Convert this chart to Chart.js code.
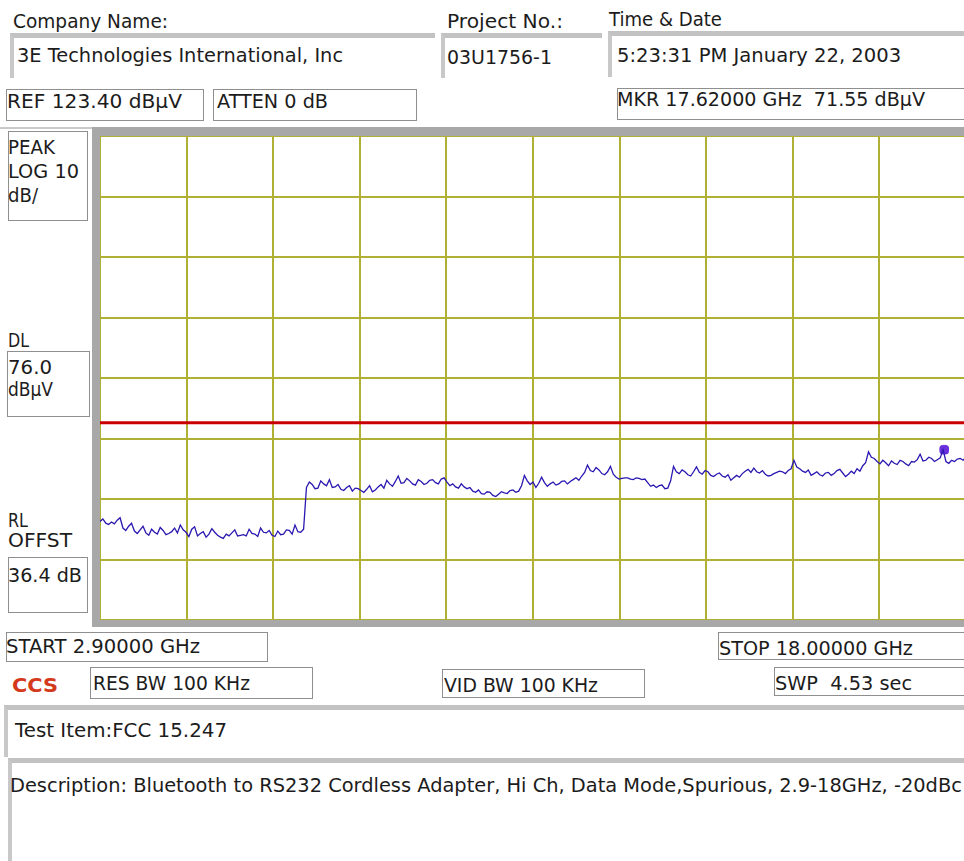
<!DOCTYPE html>
<html>
<head>
<meta charset="utf-8">
<script src="https://cdn.jsdelivr.net/npm/chart.js@4.4.1/dist/chart.umd.min.js"></script>
<style>
  html, body { margin: 0; padding: 0; background: #fff; }
  body { width: 964px; height: 861px; position: relative; overflow: hidden; font-family: "DejaVu Sans", sans-serif; }
  .lbl { position: absolute; white-space: pre; font-size: 19px; line-height: 22px; color: #1c1c1c; transform-origin: 0 50%; z-index: 3; }
  .box { position: absolute; box-sizing: border-box; border: 1px solid #8f8f8f; background: #fff; z-index: 1; }
  .sunk { position: absolute; box-sizing: border-box; border-top: 5px solid #c2c2c2; border-left: 4px solid #c8c8c8; z-index: 1; }
  .bar { position: absolute; background: #a8a8a8; z-index: 2; }
  #plot { position: absolute; left: 100px; top: 136px; }
</style>
</head>
<body>
<canvas id="plot" width="866" height="484"></canvas>
<script>
// sweep settings
const START_GHZ = 2.9;
const STOP_GHZ = 18.0;
const REF_LEVEL = 123.4;
const DB_PER_DIV = 10;
const Y_DIVS = 8;
const X_DIVS = 10;
const DL_LEVEL = 76.0;
const MKR_GHZ = 17.62;
const MKR_LEVEL = 71.55;

// peak trace, dBµV, one value per 0.05 GHz from 2.9 to 18.0 GHz
const traceLevels = [
  59.7, 60.1, 59.4, 59.2, 59.6, 59.3, 59.9, 60.3, 58.6, 58.2,
  58.9, 59.4, 58.1, 57.7, 58.3, 58.9, 57.8, 57.4, 58.4, 57.9,
  57.6, 58.7, 58.2, 57.5, 57.7, 58.0, 58.6, 57.8, 59.1, 58.3,
  57.9, 57.2, 58.4, 58.8, 57.3, 57.7, 58.0, 57.1, 57.6, 58.5,
  57.9, 57.4, 57.1, 56.9, 57.6, 57.3, 57.8, 58.3, 57.3, 57.4,
  57.5, 57.3, 58.4, 57.7, 57.6, 57.2, 58.6, 57.9, 57.8, 58.2,
  57.4, 57.2, 58.1, 57.5, 57.6, 58.3, 58.2, 57.6, 59.1, 58.0,
  57.9, 58.4, 65.3, 66.2, 65.8, 65.1, 65.2, 66.4, 65.9, 65.6,
  66.6, 65.3, 65.4, 65.8, 65.0, 64.8, 65.3, 65.6, 64.7, 65.2,
  65.1, 64.8, 64.5, 65.0, 65.6, 64.6, 64.9, 65.4, 65.8, 65.2,
  66.5, 65.9, 65.5, 66.3, 67.2, 66.0, 66.1, 66.8, 66.4, 65.9,
  65.7, 66.6, 66.3, 65.8, 66.0, 66.5, 66.6, 66.1, 65.9, 66.7,
  66.9, 66.2, 65.6, 65.9, 65.4, 65.2, 65.9, 65.4, 65.1, 65.3,
  64.7, 64.5, 64.9, 64.3, 64.2, 64.6, 64.5, 64.0, 63.8, 64.2,
  64.6, 64.4, 64.3, 64.8, 64.9, 64.5, 64.7, 65.6, 67.3, 66.4,
  65.8, 66.2, 65.3, 66.0, 67.0, 66.1, 65.5, 65.9, 66.2, 65.7,
  65.9, 66.3, 66.4, 65.9, 66.3, 66.6, 66.9, 66.5, 67.2, 67.8,
  69.0, 68.1, 67.9, 68.6, 68.2, 67.6, 67.4, 67.9, 68.8, 67.5,
  67.0, 66.7, 66.8, 66.9, 66.9, 66.7, 66.6, 66.9, 66.8, 66.6,
  66.7, 66.1, 65.5, 65.7, 65.3, 65.6, 65.7, 65.1, 65.2, 66.4,
  68.8, 67.9, 67.6, 68.2, 67.9, 67.4, 67.2, 67.9, 68.7, 67.8,
  67.5, 68.1, 67.9, 67.3, 67.1, 67.5, 67.7, 67.2, 67.0, 67.4,
  66.5, 66.9, 67.3, 67.0, 67.6, 68.0, 68.3, 67.8, 68.5, 67.9,
  67.7, 68.1, 67.5, 67.2, 67.3, 67.6, 67.8, 68.0, 67.9, 67.6,
  68.1, 68.4, 69.8, 68.7, 68.4, 68.0, 67.8, 68.2, 67.3, 67.6,
  67.9, 67.4, 67.2, 67.7, 67.8, 67.3, 67.6, 68.1, 68.3, 67.7,
  67.1, 67.5, 68.0, 67.6, 68.4, 68.0, 68.9, 69.4, 71.2, 70.3,
  70.1, 69.6, 69.2, 69.8, 69.4, 68.9, 69.7, 69.3, 69.1, 69.8,
  69.6, 69.2, 68.9, 69.6, 69.5, 69.9, 70.8, 69.7, 69.8, 70.3,
  70.1, 69.6, 69.9, 70.2, 71.55, 69.6, 69.3, 69.8, 69.6, 70.0,
  70.1, 69.8, 70.3
];

// [x, y, w, h] layout of the screen boxes
const sunkenBoxes = [
  [10, 33, 425, 45], [441, 33, 161, 45], [608, 31, 356, 46],
  [4, 705, 960, 52], [8, 758, 956, 103]
];
const plainBoxes = [
  [6, 89, 198, 32], [213, 89, 204, 32], [617, 88, 350, 32],
  [8, 131, 80, 90], [7, 351, 83, 66], [8, 557, 80, 56],
  [6, 632, 262, 30], [718, 632, 250, 28],
  [90, 667, 223, 32], [442, 669, 203, 29], [774, 667, 194, 29]
];
// [text, x, cap centre y, width]
const labels = [
  ['Company Name:', 13, 21, 155],
  ['Project No.:', 447, 20.5, 116],
  ['Time & Date', 609, 18.5, 113],
  ['3E Technologies International, Inc', 17, 55, 326],
  ['03U1756-1', 447, 56.5, 105],
  ['5:23:31 PM January 22, 2003', 617, 55, 284],
  ['REF 123.40 dBµV', 7, 100.5, 175],
  ['ATTEN 0 dB', 217, 100.5, 111],
  ['MKR 17.62000 GHz  71.55 dBµV', 617, 98.5, 308],
  ['PEAK', 8, 146.5, 47],
  ['LOG 10', 8, 170.5, 71],
  ['dB/', 8, 194.5, 30],
  ['DL', 8, 340, 21],
  ['76.0', 8, 367, 44],
  ['dBµV', 8, 389, 45],
  ['RL', 8, 520, 20],
  ['OFFST', 8, 539.5, 64],
  ['36.4 dB', 8, 574.5, 74],
  ['START 2.90000 GHz', 6, 645.5, 194],
  ['STOP 18.00000 GHz', 719, 647.5, 194],
  ['RES BW 100 KHz', 93, 682.5, 157],
  ['VID BW 100 KHz', 444, 684.5, 154],
  ['SWP  4.53 sec', 775, 682.5, 137],
  ['Test Item:FCC 15.247', 15, 729.5, 212],
  ['Description: Bluetooth to RS232 Cordless Adapter, Hi Ch, Data Mode,Spurious, 2.9-18GHz, -20dBc', 10, 785, 952]
];

function addDiv(cls, x, y, w, h) {
  const d = document.createElement('div');
  d.className = cls;
  d.style.left = x + 'px';
  d.style.top = y + 'px';
  d.style.width = w + 'px';
  d.style.height = h + 'px';
  document.body.appendChild(d);
  return d;
}

sunkenBoxes.forEach(b => addDiv('sunk', b[0], b[1], b[2], b[3]));
plainBoxes.forEach(b => addDiv('box', b[0], b[1], b[2], b[3]));

// frame around the graticule
addDiv('bar', 0, 127, 964, 2).style.background = '#c9c9c9';
addDiv('bar', 92, 127, 872, 9);
addDiv('bar', 92, 127, 8, 500);
addDiv('bar', 92, 620, 872, 7);

function addLabel(text, x, yc, w, extra) {
  const s = document.createElement('span');
  s.className = 'lbl';
  s.textContent = text;
  s.style.left = x + 'px';
  s.style.top = (yc - 11) + 'px';
  if (extra) Object.assign(s.style, extra);
  document.body.appendChild(s);
  const real = s.getBoundingClientRect().width;
  s.style.transform = 'scaleX(' + (w / real).toFixed(3) + ')';
}

labels.forEach(l => addLabel(l[0], l[1], l[2], l[3]));
addLabel('CCS', 12, 685, 46, { fontWeight: 'bold', color: '#d4391c' });

const step = (STOP_GHZ - START_GHZ) / (traceLevels.length - 1);
const tracePoints = traceLevels.map((v, i) => ({ x: START_GHZ + i * step, y: v }));

const gridStyle = { color: '#b0b035', lineWidth: 2, drawTicks: false };

new Chart(document.getElementById('plot'), {
  type: 'line',
  data: {
    datasets: [
      {
        data: [{ x: START_GHZ, y: DL_LEVEL }, { x: STOP_GHZ, y: DL_LEVEL }],
        borderColor: '#c80000',
        borderWidth: 3,
        pointRadius: 0
      },
      {
        data: tracePoints,
        borderColor: '#2a18b0',
        borderWidth: 1.3,
        pointRadius: 0
      },
      {
        data: [{ x: MKR_GHZ, y: MKR_LEVEL }],
        showLine: false,
        pointStyle: 'rectRounded',
        pointRadius: 5,
        backgroundColor: '#6a30dc',
        borderColor: '#6a30dc'
      }
    ]
  },
  options: {
    responsive: false,
    animation: false,
    events: [],
    layout: { autoPadding: false, padding: 0 },
    plugins: { legend: { display: false }, tooltip: { enabled: false } },
    scales: {
      x: {
        type: 'linear',
        min: START_GHZ,
        max: STOP_GHZ,
        ticks: { display: false, count: X_DIVS + 1 },
        grid: gridStyle,
        border: { display: false }
      },
      y: {
        min: REF_LEVEL - DB_PER_DIV * Y_DIVS,
        max: REF_LEVEL,
        ticks: { display: false, count: Y_DIVS + 1 },
        grid: gridStyle,
        border: { display: false }
      }
    }
  }
});
</script>
</body>
</html>
